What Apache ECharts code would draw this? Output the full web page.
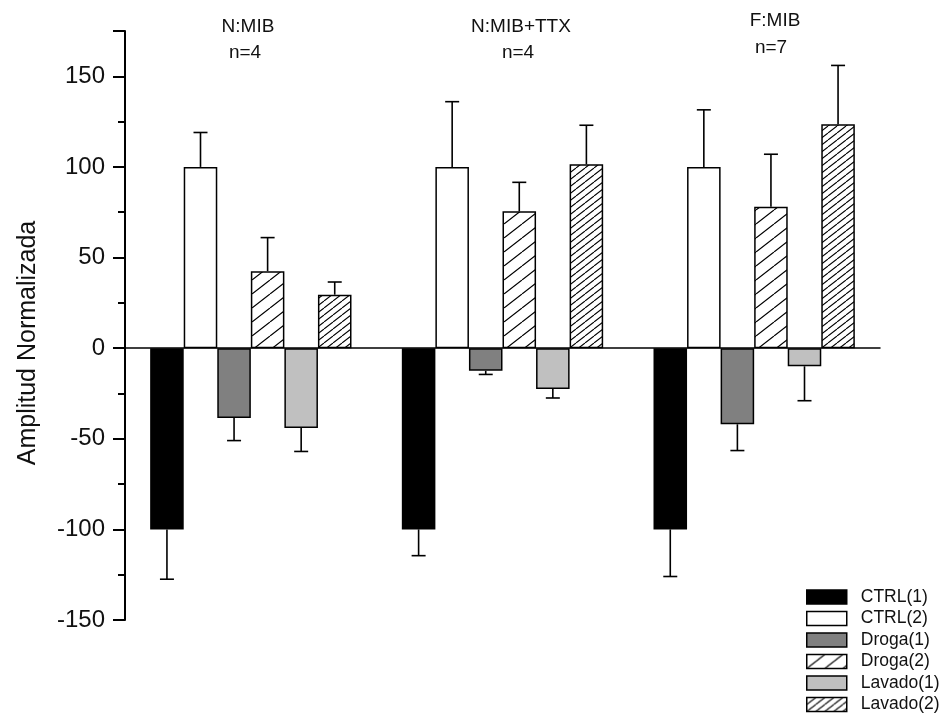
<!DOCTYPE html>
<html>
<head>
<meta charset="utf-8">
<script src="https://cdn.jsdelivr.net/npm/echarts@6/dist/echarts.min.js"></script>
<style>
html,body{margin:0;padding:0;background:#fff;}
#chart{width:948px;height:714px;}
</style>
</head>
<body>
<div id="chart"></div>
<script>
// ---- data ----
const categories = ['N:MIB', 'N:MIB+TTX', 'F:MIB'];
const groupN = ['n=4', 'n=4', 'n=7'];
const seriesNames = ['CTRL(1)', 'CTRL(2)', 'Droga(1)', 'Droga(2)', 'Lavado(1)', 'Lavado(2)'];
const ctrl1 = [-100, -100, -100];
const ctrl1Err = [27.5, 14.5, 26];
const ctrl2 = [100, 100, 100];
const ctrl2Err = [19, 36, 31.5];
const droga1 = [-38.5, -12.5, -42];
const droga1Err = [12.5, 2, 14.5];
const droga2 = [42.5, 75.5, 78];
const droga2Err = [18.5, 16, 29];
const lavado1 = [-44, -22.5, -10];
const lavado1Err = [13, 5, 19];
const lavado2 = [29.5, 101.5, 123.5];
const lavado2Err = [7, 21.5, 32.5];
const yTicks = [-150, -100, -50, 0, 50, 100, 150];

const values = [ctrl1, ctrl2, droga1, droga2, lavado1, lavado2];
const errors = [ctrl1Err, ctrl2Err, droga1Err, droga2Err, lavado1Err, lavado2Err];

function makeHatch(w, h, lw) {
  const c = document.createElement('canvas');
  c.width = w; c.height = h;
  const ctx = c.getContext('2d');
  ctx.fillStyle = '#fff';
  ctx.fillRect(0, 0, w, h);
  ctx.strokeStyle = '#000';
  ctx.lineWidth = lw;
  ctx.beginPath();
  for (let k = -1; k <= 1; k++) {
    ctx.moveTo(k * w, h);
    ctx.lineTo(k * w + w, 0);
  }
  ctx.stroke();
  return { image: c, repeat: 'repeat' };
}

const fills = [
  '#000000',
  '#ffffff',
  '#808080',
  makeHatch(18, 14, 1.2),
  '#c0c0c0',
  makeHatch(9, 7, 1.1)
];

const chart = echarts.init(document.getElementById('chart'), null, { renderer: 'canvas' });

const nSeries = seriesNames.length;
const CAT_GAP = 0.2;

const barSeries = seriesNames.map((name, i) => ({
  name: name,
  type: 'bar',
  data: values[i],
  barGap: '0%',
  barCategoryGap: '20%',
  itemStyle: { color: fills[i], borderColor: '#000', borderWidth: 1.5 },
  emphasis: { disabled: true },
  z: 2
}));

const errData = [];
for (let s = 0; s < nSeries; s++) {
  for (let c = 0; c < categories.length; c++) {
    errData.push([c, values[s][c], errors[s][c], s]);
  }
}

const errSeries = {
  type: 'custom',
  name: 'err',
  data: errData,
  encode: { x: 0, y: 1 },
  z: 3,
  silent: true,
  renderItem: function (params, api) {
    const c = api.value(0);
    const v = api.value(1);
    const e = api.value(2);
    const s = api.value(3);
    const center = api.coord([c, 0]);
    const band = api.size([1, 0])[0];
    const groupW = band * (1 - CAT_GAP);
    const barW = groupW / nSeries;
    const x = center[0] - groupW / 2 + barW * (s + 0.5);
    const y0 = api.coord([c, v])[1];
    const y1 = api.coord([c, v + (v >= 0 ? e : -e)])[1];
    const cap = 7;
    const st = { stroke: '#000', lineWidth: 1.6, fill: null };
    return {
      type: 'group',
      children: [
        { type: 'line', shape: { x1: x, y1: y0, x2: x, y2: y1 }, style: st },
        { type: 'line', shape: { x1: x - cap, y1: y1, x2: x + cap, y2: y1 }, style: st }
      ]
    };
  }
};

const textColor = '#111';
const graphics = [
  {
    type: 'text', x: 28, y: 343, rotation: Math.PI / 2,
    style: { text: 'Amplitud Normalizada', fill: textColor, font: '25px "Liberation Sans", Arial, sans-serif', textAlign: 'center', textVerticalAlign: 'middle' }
  }
];
const titlePos = [[248, 27, 245, 53], [521, 27, 518, 53], [775, 21, 771, 48]];
categories.forEach((cat, i) => {
  const p = titlePos[i];
  graphics.push({ type: 'text', x: p[0], y: p[1], style: { text: cat, fill: textColor, font: '19px "Liberation Sans", Arial, sans-serif', textAlign: 'center', textVerticalAlign: 'middle' } });
  graphics.push({ type: 'text', x: p[2], y: p[3], style: { text: groupN[i], fill: textColor, font: '19px "Liberation Sans", Arial, sans-serif', textAlign: 'center', textVerticalAlign: 'middle' } });
});

const gridRect = { left: 125, right: 68, top: 31, bottom: 94 };

const option = {
  backgroundColor: '#fff',
  animation: false,
  grid: [
    Object.assign({ containLabel: false }, gridRect),
    Object.assign({ containLabel: false }, gridRect)
  ],
  legend: {
    data: seriesNames,
    orient: 'vertical',
    left: 806,
    top: 588,
    height: 160,
    padding: 0,
    icon: 'rect',
    itemWidth: 40,
    itemHeight: 14,
    itemGap: 3.5,
    selectedMode: false,
    textStyle: { fontSize: 17.5, color: textColor, fontFamily: '"Liberation Sans", Arial, sans-serif', padding: [0, 0, 0, 9] },
    itemStyle: { borderColor: '#000', borderWidth: 1.5 }
  },
  xAxis: [
    {
      type: 'category', data: categories, gridIndex: 0,
      axisLine: { onZero: true, lineStyle: { color: '#000', width: 1.5 } },
      axisTick: { show: false },
      axisLabel: { show: false },
      splitLine: { show: false }
    },
    {
      type: 'category', data: categories, gridIndex: 1, show: false
    }
  ],
  yAxis: [
    {
      type: 'value', gridIndex: 0,
      min: -150, max: 175, interval: 50,
      axisLine: { show: true, lineStyle: { color: '#000', width: 2 } },
      axisTick: { show: true, length: 12, lineStyle: { color: '#000', width: 2 } },
      axisLabel: { show: true, margin: 20, fontSize: 24, color: textColor, fontFamily: '"Liberation Sans", Arial, sans-serif', customValues: yTicks },
      splitLine: { show: false }
    },
    {
      type: 'value', gridIndex: 1,
      min: -150, max: 175, interval: 25,
      axisLine: { show: false },
      axisTick: { show: true, length: 7, lineStyle: { color: '#000', width: 2 } },
      axisLabel: { show: false },
      splitLine: { show: false }
    }
  ],
  series: barSeries.concat([errSeries]),
  graphic: graphics
};

chart.setOption(option);
</script>
</body>
</html>
